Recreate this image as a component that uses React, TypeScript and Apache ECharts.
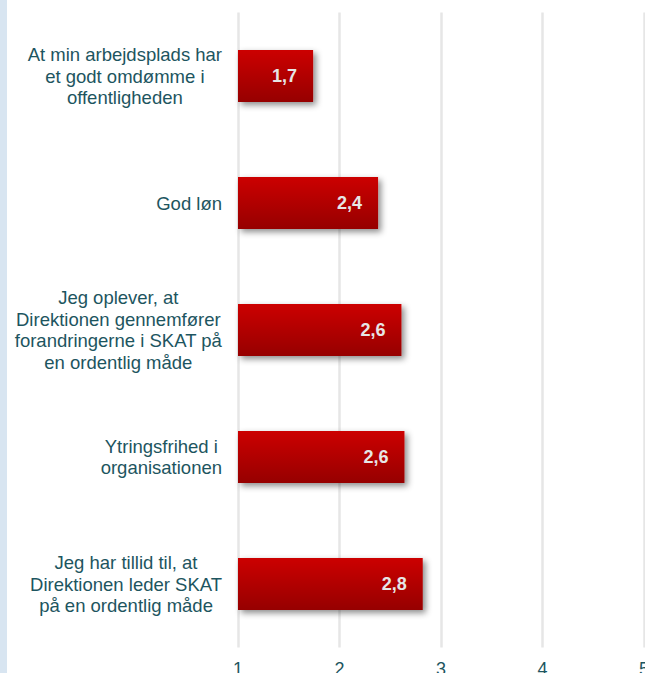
import React, { useEffect, useRef } from "react";
import * as echarts from "echarts";

const categories: string[][] = [
  ["At min arbejdsplads har", "et godt omdømme i", "offentligheden"],
  ["God løn"],
  ["Jeg oplever, at", "Direktionen gennemfører", "forandringerne i SKAT på", "en ordentlig måde"],
  ["Ytringsfrihed i", "organisationen"],
  ["Jeg har tillid til, at", "Direktionen leder SKAT", "på en ordentlig måde"],
];
const values: number[] = [1.74, 2.38, 2.61, 2.64, 2.82];
const axisMin = 1;
const axisMax = 5;

const FONT = "'Liberation Sans', Arial, sans-serif";

export default function App() {
  const ref = useRef<HTMLDivElement>(null);
  useEffect(() => {
    if (!ref.current) return;
    const chart = echarts.init(ref.current, undefined, { renderer: "svg" });
    const catNames = categories.map((c) => c.join("\n"));
    chart.setOption({
      animation: false,
      backgroundColor: "#ffffff",
      textStyle: { fontFamily: FONT },
      graphic: [
        {
          type: "rect",
          shape: { x: 0, y: 0, width: 7, height: 673 },
          style: { fill: "#d8e5f1" },
        },
      ],
      grid: {
        left: 238,
        right: 1,
        top: 12.5,
        bottom: 25.5,
        containLabel: false,
        outerBoundsMode: "none",
      },
      xAxis: {
        type: "value",
        min: axisMin,
        max: axisMax,
        interval: 1,
        axisLine: { show: false },
        axisTick: { show: false },
        splitLine: { show: true, lineStyle: { color: "#e6e6e6", width: 2.5 } },
        axisLabel: {
          color: "#1d5560",
          fontSize: 18,
          margin: 12,
          fontFamily: FONT,
        },
      },
      yAxis: {
        type: "category",
        inverse: true,
        data: catNames,
        axisLine: { show: false },
        axisTick: { show: false },
        axisLabel: {
          margin: 16,
          align: "right",
          formatter: (v: string) =>
            v
              .split("\n")
              .map((l) => "{c|" + l + "}")
              .join("\n"),
          rich: {
            c: {
              align: "center",
              color: "#1d5560",
              fontSize: 18.5,
              lineHeight: 21.5,
              fontFamily: FONT,
            },
          },
        },
      },
      series: [
        {
          type: "bar",
          data: values,
          barWidth: 52,
          itemStyle: {
            color: new echarts.graphic.LinearGradient(0, 0, 0, 1, [
              { offset: 0, color: "#cc0000" },
              { offset: 1, color: "#960000" },
            ]),
            shadowColor: "rgba(0,0,0,0.45)",
            shadowBlur: 6,
            shadowOffsetX: 3,
            shadowOffsetY: 3,
          },
          label: {
            show: true,
            position: "insideRight",
            distance: 16,
            color: "#e6e6e6",
            fontWeight: "bold",
            fontSize: 18,
            fontFamily: FONT,
            formatter: (p: any) => p.value.toFixed(1).replace(".", ","),
          },
        },
      ],
    });
    return () => chart.dispose();
  }, []);
  return (
    <div
      ref={ref}
      style={{ position: "fixed", left: 0, top: 0, width: 645, height: 673 }}
    />
  );
}
